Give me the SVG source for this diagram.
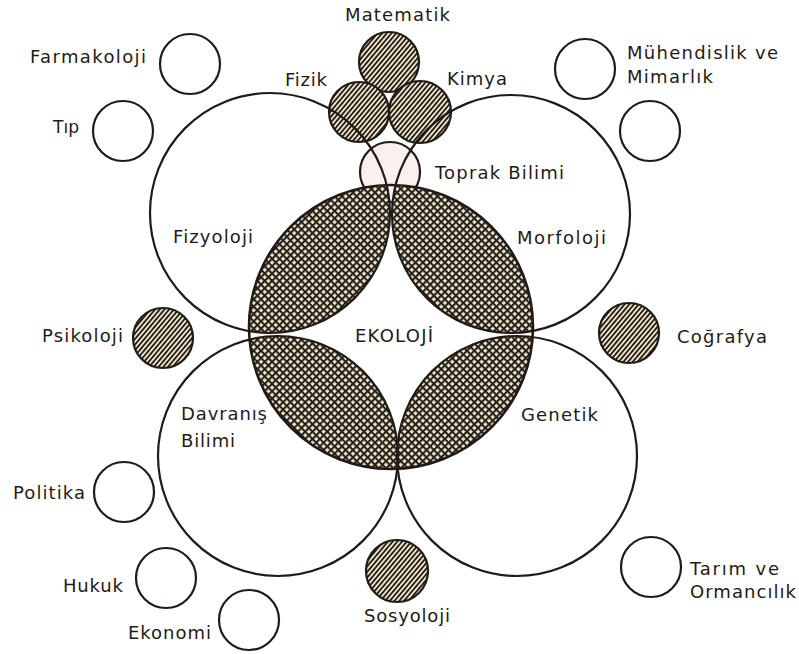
<svg xmlns="http://www.w3.org/2000/svg" width="799" height="654" viewBox="0 0 799 654">
<style>
  text { font-family: "DejaVu Sans", "Liberation Sans", sans-serif; font-size: 18px; fill: #1f1b17; }
  .ring { fill: none; stroke: #1f1b17; stroke-width: 2.2; }
  .plain { fill: #ffffff; stroke: #1f1b17; stroke-width: 2.2; }
  .hatched { fill: url(#hatch); stroke: #1f1b17; stroke-width: 2.2; }
  .cross { fill: url(#cross); stroke: none; }
</style>
<defs>
  <pattern id="hatch" patternUnits="userSpaceOnUse" width="3.6" height="3.6" patternTransform="rotate(-50)">
    <rect width="3.6" height="3.6" fill="#efe4c8"/>
    <rect width="3.6" height="1.8" fill="#231f1a"/>
  </pattern>
  <pattern id="cross" patternUnits="userSpaceOnUse" width="5.2" height="5.2" patternTransform="rotate(45)">
    <rect width="5.2" height="5.2" fill="#efe4c8"/>
    <rect width="5.2" height="2" fill="#231f1a"/>
    <rect width="2" height="5.2" fill="#231f1a"/>
  </pattern>
  <clipPath id="eco-clip">
    <circle cx="391" cy="327" r="142"/>
  </clipPath>
</defs>
<rect width="799" height="654" fill="#ffffff"/>

<g id="toprak-bilimi">
  <circle cx="390" cy="172" r="30" fill="#fbf0ee" stroke="#1f1b17" stroke-width="2.2"/>
  <text x="435" y="179" textLength="129" lengthAdjust="spacing">Toprak Bilimi</text>
</g>

<g id="matematik">
  <circle class="hatched" cx="389" cy="62" r="30"/>
  <text x="345" y="21" textLength="105" lengthAdjust="spacing">Matematik</text>
</g>
<g id="fizik">
  <circle class="hatched" cx="359" cy="112" r="30"/>
  <text x="285" y="86" textLength="42" lengthAdjust="spacing">Fizik</text>
</g>
<g id="kimya">
  <circle class="hatched" cx="420" cy="112" r="31"/>
  <text x="447" y="85" textLength="60" lengthAdjust="spacing">Kimya</text>
</g>

<g id="ekoloji">
  <g clip-path="url(#eco-clip)">
    <circle class="cross" cx="270" cy="213" r="120"/>
    <circle class="cross" cx="511" cy="214" r="119"/>
    <circle class="cross" cx="278" cy="456" r="120"/>
    <circle class="cross" cx="517" cy="456" r="120"/>
  </g>
  <circle cx="391" cy="327" r="142" fill="none" stroke="#1f1b17" stroke-width="2.6"/>
  <text x="355" y="342" textLength="78" lengthAdjust="spacing">EKOLOJİ</text>
</g>

<g id="fizyoloji">
  <circle class="ring" cx="270" cy="213" r="120"/>
  <text x="173" y="243" textLength="80" lengthAdjust="spacing">Fizyoloji</text>
</g>
<g id="morfoloji">
  <circle class="ring" cx="511" cy="214" r="119"/>
  <text x="517" y="244" textLength="89" lengthAdjust="spacing">Morfoloji</text>
</g>
<g id="davranis-bilimi">
  <circle class="ring" cx="278" cy="456" r="120"/>
  <text x="181" y="420" textLength="86" lengthAdjust="spacing">Davranış</text>
  <text x="181" y="447" textLength="54" lengthAdjust="spacing">Bilimi</text>
</g>
<g id="genetik">
  <circle class="ring" cx="517" cy="456" r="120"/>
  <text x="521" y="421" textLength="77" lengthAdjust="spacing">Genetik</text>
</g>

<g id="farmakoloji">
  <circle class="plain" cx="190" cy="64" r="30"/>
  <text x="30" y="63" textLength="116" lengthAdjust="spacing">Farmakoloji</text>
</g>
<g id="tip">
  <circle class="plain" cx="123" cy="131" r="30"/>
  <text x="53" y="133" textLength="26" lengthAdjust="spacingAndGlyphs">Tıp</text>
</g>
<g id="muhendislik-mimarlik">
  <circle class="plain" cx="585" cy="69" r="30"/>
  <text x="627" y="59" textLength="151" lengthAdjust="spacing">Mühendislik ve</text>
  <text x="627" y="83" textLength="86" lengthAdjust="spacing">Mimarlık</text>
</g>
<g id="unlabelled-right">
  <circle class="plain" cx="650" cy="131" r="30"/>
</g>
<g id="psikoloji">
  <circle class="hatched" cx="163" cy="338" r="30"/>
  <text x="42" y="342" textLength="81" lengthAdjust="spacing">Psikoloji</text>
</g>
<g id="cografya">
  <circle class="hatched" cx="629" cy="333" r="30"/>
  <text x="677" y="343" textLength="90" lengthAdjust="spacing">Coğrafya</text>
</g>
<g id="politika">
  <circle class="plain" cx="124" cy="492" r="30"/>
  <text x="13" y="499" textLength="72" lengthAdjust="spacing">Politika</text>
</g>
<g id="hukuk">
  <circle class="plain" cx="166" cy="578" r="30"/>
  <text x="63" y="592" textLength="60" lengthAdjust="spacing">Hukuk</text>
</g>
<g id="ekonomi">
  <circle class="plain" cx="249" cy="620" r="30"/>
  <text x="128" y="639" textLength="83" lengthAdjust="spacing">Ekonomi</text>
</g>
<g id="sosyoloji">
  <circle class="hatched" cx="397" cy="571" r="31"/>
  <text x="364" y="622" textLength="86" lengthAdjust="spacing">Sosyoloji</text>
</g>
<g id="tarim-ormancilik">
  <circle class="plain" cx="651" cy="567" r="30"/>
  <text x="690" y="575" textLength="89" lengthAdjust="spacing">Tarım ve</text>
  <text x="690" y="598" textLength="106" lengthAdjust="spacing">Ormancılık</text>
</g>

<g id="connectors"/>
</svg>
